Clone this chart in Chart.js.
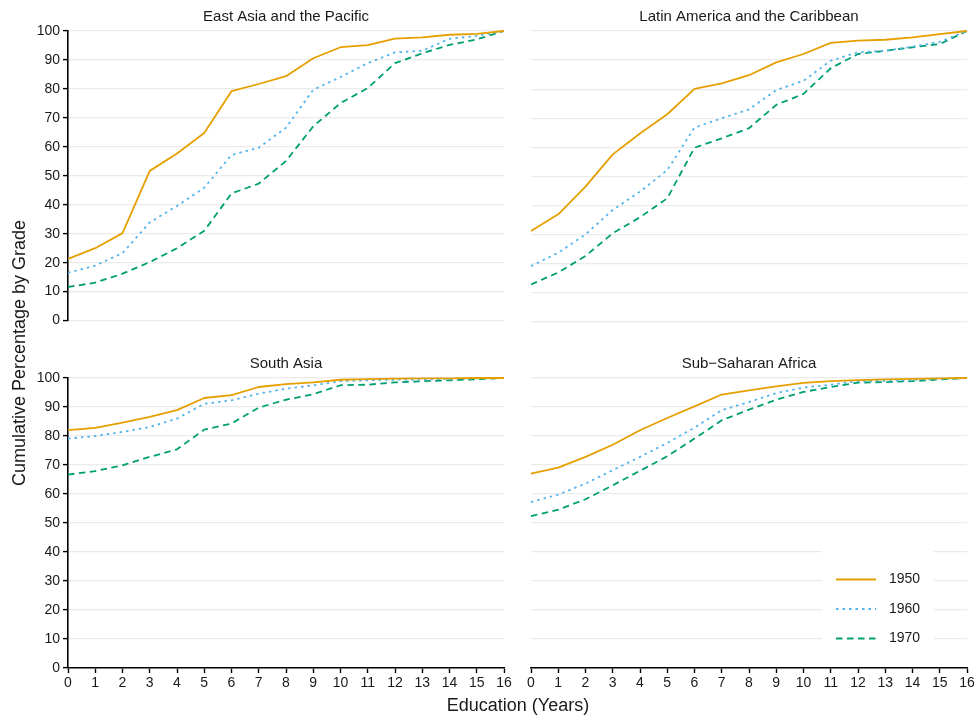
<!DOCTYPE html>
<html>
<head>
<meta charset="utf-8">
<script src="https://cdn.jsdelivr.net/npm/chart.js@4.4.1/dist/chart.umd.min.js"></script>
<style>
  html, body { margin: 0; padding: 0; background: #ffffff; }
  body { width: 979px; height: 719px; position: relative; overflow: hidden;
         font-family: "Liberation Sans", Arial, Helvetica, sans-serif; color: #1a1a1a; }
  .pane { position: absolute; }
  .pane canvas { display: block; }
  #xtitle { position: absolute; left: 0; width: 1036px; top: 693px; line-height: 24px;
            text-align: center; font-size: 18px; }
  #ytitle { position: absolute; left: -181px; top: 341px; width: 400px; line-height: 24px;
            text-align: center; font-size: 18px; transform: rotate(-90deg); transform-origin: 50% 50%; }
</style>
</head>
<body>
<div class="pane" style="left:0px;top:4px;"><canvas id="c1" width="516" height="328"></canvas></div>
<div class="pane" style="left:519px;top:4px;"><canvas id="c2" width="460" height="328"></canvas></div>
<div class="pane" style="left:0px;top:351px;"><canvas id="c3" width="516" height="347"></canvas></div>
<div class="pane" style="left:519px;top:351px;"><canvas id="c4" width="460" height="347"></canvas></div>
<div id="ytitle">Cumulative Percentage by Grade</div>
<div id="xtitle">Education (Years)</div>
<script>
// ---------------- data ----------------
const years = [0, 1, 2, 3, 4, 5, 6, 7, 8, 9, 10, 11, 12, 13, 14, 15, 16];
const seriesLabels = ['1950', '1960', '1970'];
const regionNames = ['East Asia and the Pacific', 'Latin America and the Caribbean', 'South Asia', 'Sub\u2212Saharan Africa'];
const yTickStep = 10;
const xTickStep = 1;

const eap1950 = [21.3, 25, 30.2, 51.7, 57.7, 64.8, 79.2, 81.7, 84.4, 90.6, 94.4, 95.1, 97.4, 97.8, 98.7, 99, 100];
const eap1960 = [16.5, 19, 23.3, 33.9, 39.6, 45.9, 57.2, 59.7, 66.6, 79.7, 84.1, 88.9, 92.6, 93.2, 97.3, 98.3, 100];
const eap1970 = [11.6, 13.1, 16.2, 20.2, 25, 31, 43.9, 47.3, 55.1, 67.1, 75.1, 80.3, 88.9, 92.3, 95.2, 97.1, 100];

const lac1950 = [31.3, 37, 46.5, 57.6, 64.8, 71.4, 80.1, 82, 84.8, 89.2, 92.1, 95.9, 96.7, 97, 97.8, 98.9, 100];
const lac1960 = [19.2, 23.8, 30.1, 38.5, 44.8, 52.2, 66.8, 70, 73.1, 79.7, 82.9, 89.8, 92.7, 93.2, 94.6, 96.3, 100];
const lac1970 = [12.9, 17, 22.7, 30.5, 36, 42.5, 59.9, 63.1, 66.6, 74.6, 78.4, 87.2, 92.1, 93.2, 94.4, 95.5, 100];

const sa1950 = [82, 82.8, 84.6, 86.6, 88.9, 93.1, 94.1, 96.9, 97.9, 98.5, 99.4, 99.6, 99.8, 99.9, 99.9, 100, 100];
const sa1960 = [79.1, 80, 81.4, 83.1, 86, 91.1, 92.3, 94.6, 96.3, 97.5, 98.9, 99.2, 99.4, 99.5, 99.7, 99.9, 100];
const sa1970 = [66.7, 67.9, 69.9, 72.8, 75.4, 82.2, 84.3, 89.8, 92.5, 94.4, 97.5, 97.7, 98.5, 98.9, 99.2, 99.6, 100];

const ssa1950 = [67, 69.1, 72.8, 77, 82, 86.2, 90.2, 94.3, 95.7, 97.1, 98.3, 98.9, 99.3, 99.5, 99.7, 99.9, 100];
const ssa1960 = [57.2, 59.8, 63.6, 68.2, 72.8, 77.6, 82.9, 88.9, 91.7, 94.8, 96.7, 97.7, 98.9, 99, 99.4, 99.8, 100];
const ssa1970 = [52.4, 54.6, 58.2, 63, 68, 73, 79.1, 85.4, 89.1, 92.5, 95.2, 96.9, 98.4, 98.6, 98.9, 99.5, 100];

// ---------------- styles ----------------
const FONT = '"Liberation Sans", Arial, Helvetica, sans-serif';
const TEXT = '#1a1a1a';
const seriesColors = ['#E69F00', '#56B4E9', '#009E73'];
const seriesDashes = [[], [2.5, 4], [6.5, 4.5]];
const LINE_W = 1.8;

function buildDatasets(seriesList) {
  return seriesList.map((vals, i) => ({
    label: seriesLabels[i],
    data: years.map((x, j) => ({ x: x, y: vals[j] })),
    borderColor: seriesColors[i],
    backgroundColor: seriesColors[i],
    borderWidth: LINE_W,
    borderDash: seriesDashes[i],
    borderJoinStyle: 'round',
    pointRadius: 0,
    pointHoverRadius: 0,
    fill: false,
    tension: 0,
    clip: false
  }));
}

// inset legend with white background, drawn from the dataset styles
const insetLegend = {
  id: 'insetLegend',
  afterDatasetsDraw(chart) {
    const ca = chart.chartArea;
    const ctx = chart.ctx;
    const boxR = ca.right - 33, boxL = boxR - 112;
    const boxB = ca.bottom - 4, boxT = ca.bottom - 123;
    ctx.save();
    ctx.fillStyle = '#ffffff';
    ctx.fillRect(boxL, boxT, boxR - boxL, boxB - boxT);
    const rowY = [ca.bottom - 88.5, ca.bottom - 59, ca.bottom - 29.5];
    chart.data.datasets.forEach((ds, i) => {
      const y = rowY[i];
      ctx.beginPath();
      ctx.strokeStyle = ds.borderColor;
      ctx.lineWidth = LINE_W;
      ctx.setLineDash(ds.borderDash);
      ctx.moveTo(boxL + 14, y);
      ctx.lineTo(boxL + 54, y);
      ctx.stroke();
      ctx.setLineDash([]);
      ctx.fillStyle = TEXT;
      ctx.font = '14px ' + FONT;
      ctx.textAlign = 'left';
      ctx.textBaseline = 'middle';
      ctx.fillText(ds.label, boxL + 67, y);
    });
    ctx.restore();
  }
};

function makePanel(id, title, seriesList, showY, showX, withLegend, pad) {
  const cfg = {
    type: 'line',
    data: { datasets: buildDatasets(seriesList) },
    options: {
      responsive: false,
      animation: false,
      events: [],
      layout: { padding: pad },
      plugins: {
        legend: { display: false },
        tooltip: { enabled: false },
        title: {
          display: true, text: title, fullSize: false, color: TEXT,
          font: { family: FONT, size: 15, weight: 'normal', lineHeight: 1.2 },
          padding: { top: 4, bottom: 5 }
        }
      },
      scales: {
        x: {
          type: 'linear', min: 0, max: 16, display: showX,
          afterFit(s) { s.height = showX ? 30 : 0; },
          ticks: { stepSize: xTickStep, autoSkip: false, maxRotation: 0, color: TEXT,
                   font: { family: FONT, size: 14 }, padding: 2 },
          grid: { display: true, drawOnChartArea: false, drawTicks: true, tickLength: 5,
                  tickColor: '#000000', tickWidth: 1.4 },
          border: { display: true, color: '#000000', width: 1.6 }
        },
        y: {
          type: 'linear', min: 0, max: 100,
          afterFit(s) { s.width = showY ? 68 : 0; },
          ticks: { display: showY, stepSize: yTickStep, color: TEXT,
                   font: { family: FONT, size: 14 }, padding: 3 },
          grid: { color: '#ebebeb', lineWidth: 1.2, drawTicks: showY, tickLength: 5,
                  tickColor: '#000000', tickWidth: 1.4 },
          border: { display: showY, color: '#000000', width: 1.6 }
        }
      }
    },
    plugins: withLegend ? [insetLegend] : []
  };
  return new Chart(document.getElementById(id), cfg);
}

makePanel('c1', regionNames[0], [eap1950, eap1960, eap1970], true, false, false, { left: 0, right: 12, top: 0, bottom: 10 });
makePanel('c2', regionNames[1], [lac1950, lac1960, lac1970], false, false, false, { left: 12, right: 12, top: 0, bottom: 10 });
makePanel('c3', regionNames[2], [sa1950, sa1960, sa1970], true, true, false, { left: 0, right: 12, top: 0, bottom: 0 });
makePanel('c4', regionNames[3], [ssa1950, ssa1960, ssa1970], false, true, true, { left: 12, right: 12, top: 0, bottom: 0 });
</script>
</body>
</html>
